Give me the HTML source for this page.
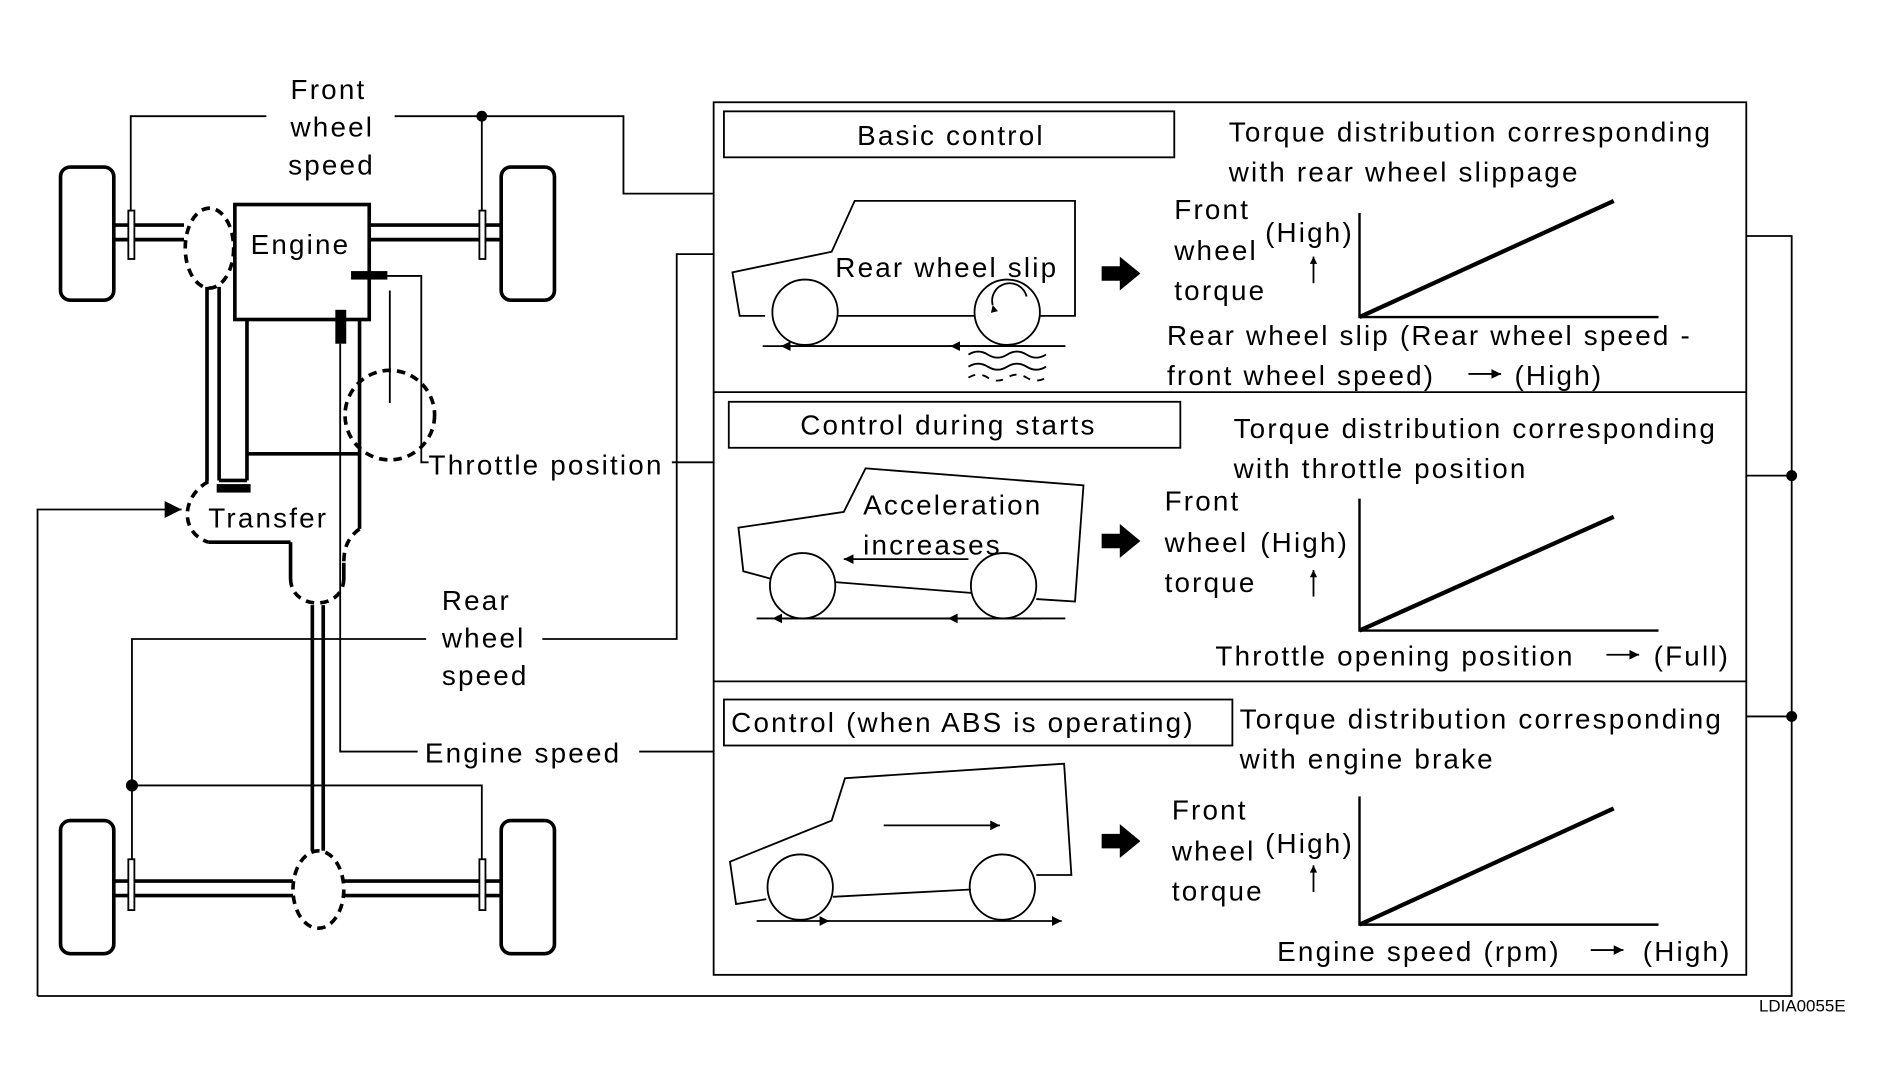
<!DOCTYPE html>
<html><head><meta charset="utf-8"><style>
html,body{margin:0;padding:0;background:#fff;}
svg{display:block;}
text{font-family:"Liberation Sans",sans-serif;font-size:23px;fill:#000;letter-spacing:1.8px;}
</style></head><body>
<svg width="1897" height="1088" viewBox="0 0 1567 899" preserveAspectRatio="none" xmlns="http://www.w3.org/2000/svg">
<defs>
<marker id="ah" viewBox="0 0 10 10" refX="10" refY="5" markerWidth="8" markerHeight="6" orient="auto" markerUnits="userSpaceOnUse"><path d="M0,0 L10,5 L0,10 z"/></marker>
<marker id="ahb" viewBox="0 0 10 10" refX="10" refY="5" markerWidth="18" markerHeight="14" orient="auto" markerUnits="userSpaceOnUse"><path d="M0,0 L10,5 L0,10 z"/></marker>
<marker id="ahs" viewBox="0 0 10 10" refX="10" refY="5" markerWidth="14" markerHeight="8" orient="auto" markerUnits="userSpaceOnUse"><path d="M0,0 L10,5 L0,10 z"/></marker>
</defs>
<g fill="none" stroke="#000">
<rect x="50" y="138" width="44" height="110" rx="8" stroke-width="3"/>
<rect x="414" y="138" width="44" height="110" rx="8" stroke-width="3"/>
<rect x="50" y="678" width="44" height="110" rx="8" stroke-width="3"/>
<rect x="414" y="678" width="44" height="110" rx="8" stroke-width="3"/>
<g stroke-width="3">
<line x1="94" y1="186" x2="152" y2="186"/><line x1="94" y1="198" x2="152" y2="198"/>
<line x1="305" y1="186" x2="414" y2="186"/><line x1="305" y1="198" x2="414" y2="198"/>
<line x1="94" y1="728" x2="242" y2="728"/><line x1="94" y1="740" x2="242" y2="740"/>
<line x1="284" y1="728" x2="414" y2="728"/><line x1="284" y1="740" x2="414" y2="740"/>
</g>
<rect x="106" y="174" width="5" height="40" fill="#fff" stroke-width="1.5"/>
<rect x="396" y="174" width="5" height="40" fill="#fff" stroke-width="1.5"/>
<rect x="106" y="710" width="5" height="42" fill="#fff" stroke-width="1.5"/>
<rect x="396" y="710" width="5" height="42" fill="#fff" stroke-width="1.5"/>
<g stroke-width="3" stroke-dasharray="7,5">
<ellipse cx="173" cy="205" rx="20" ry="33"/>
<ellipse cx="263" cy="735" rx="21" ry="32"/>
<circle cx="322" cy="343" r="37"/>
<path d="M172,398 C150,410 148,440 172,448"/>
<path d="M240,478 C240,505 284,505 284,478"/>
<path d="M297,437 C286,445 284,455 284,465"/>
</g>
<rect x="194" y="169" width="111" height="95" stroke-width="3"/>
<g stroke-width="3">
<line x1="171" y1="237" x2="171" y2="398"/>
<line x1="181" y1="237" x2="181" y2="397"/>
<line x1="181" y1="397" x2="204" y2="397"/>
<line x1="204" y1="264" x2="204" y2="397"/>
<line x1="204" y1="375" x2="297" y2="375"/>
<line x1="297" y1="264" x2="297" y2="437"/>
<line x1="172" y1="448" x2="240" y2="448"/>
<line x1="240" y1="448" x2="240" y2="478"/>
<line x1="284" y1="465" x2="284" y2="478"/>
<line x1="258" y1="500" x2="258" y2="703"/>
<line x1="267" y1="500" x2="267" y2="703"/>
</g>
<rect x="179" y="400" width="28" height="7" fill="#000" stroke="none"/>
<rect x="290" y="224" width="30" height="7" fill="#000" stroke="none"/>
<rect x="277" y="256" width="9" height="28" fill="#000" stroke="none"/>
<g stroke-width="1.5">
<polyline points="108,174 108,96 220,96"/>
<polyline points="326,96 515,96 515,160 589,160"/>
<line x1="398" y1="96" x2="398" y2="174"/>
<polyline points="320,228 348,228 348,382 354,382"/>
<line x1="322" y1="240" x2="322" y2="333"/>
<line x1="555" y1="382" x2="589" y2="382"/>
<polyline points="281,284 281,621 345,621"/>
<line x1="528" y1="621" x2="589" y2="621"/>
<polyline points="109,710 109,528 352,528"/>
<polyline points="448,528 559,528 559,210 589,210"/>
<polyline points="109,649 398,649 398,710"/>
<polyline points="31,823 31,421 150,421" marker-end="url(#ahb)"/>
<polyline points="31,823 1480,823 1480,195 1443,195"/>
<line x1="1443" y1="393" x2="1480" y2="393"/>
<line x1="1443" y1="592" x2="1480" y2="592"/>
</g>
</g>
<g fill="#000">
<circle cx="398" cy="96" r="4.5"/><circle cx="109" cy="649" r="5"/>
<circle cx="1480" cy="393" r="4.5"/><circle cx="1480" cy="592" r="4.5"/>
</g>
<text x="240" y="82">Front</text><text x="240" y="113">wheel</text><text x="238" y="144">speed</text>
<text x="207" y="210">Engine</text>
<text x="172" y="436">Transfer</text>
<text x="354" y="392">Throttle position</text>
<text x="365" y="504">Rear</text><text x="365" y="535">wheel</text><text x="365" y="566">speed</text>
<text x="351" y="630">Engine speed</text>

<g fill="none" stroke="#000">
<rect x="589.5" y="84.5" width="853" height="721" stroke-width="1.5"/>
<line x1="589" y1="324" x2="1443" y2="324" stroke-width="1.5"/>
<line x1="589" y1="563" x2="1443" y2="563" stroke-width="1.5"/>
<rect x="598" y="92" width="372" height="38" stroke-width="1.5"/>
<rect x="602" y="332" width="373" height="38" stroke-width="1.5"/>
<rect x="598" y="578" width="420" height="38" stroke-width="1.5"/>
<g stroke-width="2">
<polyline points="1123,176 1123,262 1370,262"/>
<polyline points="1123,412 1123,521 1370,521"/>
<polyline points="1123,658 1123,764 1370,764"/>
</g>
<g stroke-width="3.5">
<line x1="1123" y1="262" x2="1333" y2="166"/>
<line x1="1123" y1="521" x2="1333" y2="427"/>
<line x1="1123" y1="764" x2="1333" y2="668"/>
</g>
<g stroke-width="1.5">
<polyline points="632,261 611,261 605,225 687,208 706,166 888,166 888,261 859,261"/>
<line x1="692" y1="261" x2="805" y2="261"/>
<circle cx="665" cy="258" r="27"/><circle cx="832" cy="258" r="27"/>
<path d="M820,252 A14,14 0 1,1 848,245" marker-start="url(#ah)"/>
<line x1="880" y1="286" x2="630" y2="286"/>
<line x1="850" y1="286" x2="645" y2="286" marker-end="url(#ahs)"/>
<line x1="880" y1="286" x2="785" y2="286" marker-end="url(#ahs)"/>
<path d="M800,293 q8,-5 16,0 t16,0 t16,0 t16,0"/>
<path d="M800,303 q8,-5 16,0 t16,0 t16,0 t16,0"/>
<path d="M800,312 q8,-5 16,0 t16,0 t16,0 t16,0" stroke-dasharray="6,6"/>
</g>
<g stroke-width="1.5">
<path d="M636,478 L614,472 L610,436 L697,423 L715,387 L895,401 L888,497 L856,495"/>
<line x1="690" y1="481" x2="803" y2="490"/>
<circle cx="663" cy="484" r="27"/><circle cx="829" cy="484" r="27"/>
<line x1="880" y1="511" x2="625" y2="511"/>
<line x1="850" y1="511" x2="638" y2="511" marker-end="url(#ahs)"/>
<line x1="860" y1="511" x2="783" y2="511" marker-end="url(#ahs)"/>
<line x1="800" y1="462" x2="697" y2="462" marker-end="url(#ahs)"/>
</g>
<g stroke-width="1.5">
<path d="M633,743 L608,747 L603,712 L687,678 L698,643 L879,631 L885,723 L856,723"/>
<line x1="688" y1="741" x2="802" y2="735"/>
<circle cx="661" cy="733" r="27"/><circle cx="828" cy="733" r="27"/>
<line x1="625" y1="761" x2="685" y2="761" marker-end="url(#ahs)"/>
<line x1="680" y1="761" x2="877" y2="761" marker-end="url(#ahs)"/>
<line x1="730" y1="682" x2="826" y2="682" marker-end="url(#ahs)"/>
</g>
<g stroke-width="1.5">
<line x1="1085" y1="234" x2="1085" y2="212" marker-end="url(#ah)"/>
<line x1="1085" y1="493" x2="1085" y2="471" marker-end="url(#ah)"/>
<line x1="1085" y1="737" x2="1085" y2="715" marker-end="url(#ah)"/>
<line x1="1213" y1="309" x2="1240" y2="309" marker-end="url(#ahs)"/>
<line x1="1327" y1="541" x2="1354" y2="541" marker-end="url(#ahs)"/>
<line x1="1314" y1="785" x2="1341" y2="785" marker-end="url(#ahs)"/>
</g>
</g>
<g fill="#000">
<path d="M910,220 L925,220 L925,212 L942,226 L925,240 L925,232 L910,232 z"/>
<path d="M910,441 L925,441 L925,433 L942,447 L925,461 L925,453 L910,453 z"/>
<path d="M910,689 L925,689 L925,681 L942,695 L925,709 L925,701 L910,701 z"/>
</g>
<text x="708" y="120">Basic control</text>
<text x="1015" y="117">Torque distribution corresponding</text>
<text x="1015" y="150">with rear wheel slippage</text>
<text x="690" y="229">Rear wheel slip</text>
<text x="970" y="181">Front</text><text x="970" y="215">wheel</text><text x="970" y="248">torque</text>
<text x="1045" y="200">(High)</text>
<text x="964" y="285">Rear wheel slip (Rear wheel speed -</text>
<text x="964" y="318">front wheel speed)</text><text x="1251" y="318">(High)</text>

<text x="661" y="359">Control during starts</text>
<text x="1019" y="362">Torque distribution corresponding</text>
<text x="1019" y="395">with throttle position</text>
<text x="713" y="425">Acceleration</text><text x="713" y="458">increases</text>
<text x="962" y="422">Front</text><text x="962" y="456">wheel</text><text x="1041" y="456">(High)</text><text x="962" y="489">torque</text>
<text x="1004" y="550">Throttle opening position</text><text x="1366" y="550">(Full)</text>

<text x="604" y="605">Control (when ABS is operating)</text>
<text x="1024" y="602">Torque distribution corresponding</text>
<text x="1024" y="635">with engine brake</text>
<text x="968" y="677">Front</text><text x="968" y="711">wheel</text><text x="1045" y="705">(High)</text><text x="968" y="744">torque</text>
<text x="1055" y="794">Engine speed (rpm)</text><text x="1357" y="794">(High)</text>
<text x="1453" y="836" style="font-size:14px;letter-spacing:0">LDIA0055E</text>
</svg>
</body></html>
